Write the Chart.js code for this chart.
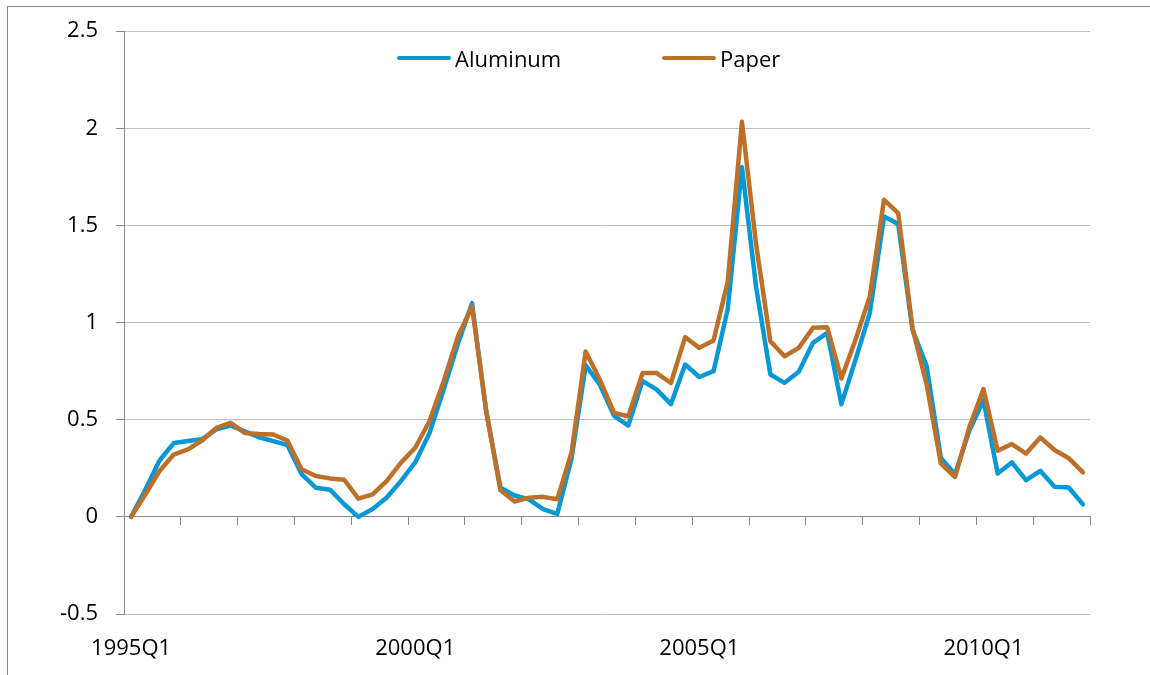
<!DOCTYPE html>
<html>
<head>
<meta charset="utf-8">
<script src="https://cdn.jsdelivr.net/npm/chart.js"></script>
<style>
  body { margin: 0; background: #fff; }
  #wrap { position: relative; width: 1150px; height: 675px; overflow: hidden; }
  #frame { position: absolute; left: 7px; top: 6px; right: -5px; bottom: -5px;
           border-left: 1.5px solid #888; border-top: 1.5px solid #888; }
  canvas { position: absolute; left: 0; top: 0; }
  .key { position: absolute; top: 58px; font: 22px "Open Sans", sans-serif; color: #000;
         transform: translateY(-50%); display: flex; align-items: center; }
  .key i { display: inline-block; width: 54px; height: 4.5px; border-radius: 2px; margin-right: 4px; }
</style>
</head>
<body>
<div id="wrap">
  <div id="frame"></div>
  <canvas id="chart" width="1150" height="675"></canvas>
  <div class="key" style="left:397px"><i style="background:#0898d6"></i>Aluminum</div>
  <div class="key" style="left:662px"><i style="background:#bd7029"></i>Paper</div>
</div>
<script>
  // quarters 1995Q1 .. 2011Q4
  const years = [1995, 1996, 1997, 1998, 1999, 2000, 2001, 2002, 2003,
                 2004, 2005, 2006, 2007, 2008, 2009, 2010, 2011]
  const quarters = ['Q1', 'Q2', 'Q3', 'Q4']
  const labels = []
  years.forEach(y => quarters.forEach(q => labels.push(y + q)))

  const aluminum = [
    0.00, 0.14, 0.29, 0.38, 0.39, 0.40, 0.45, 0.47, 0.44, 0.41, 0.39, 0.37,
    0.22, 0.15, 0.14, 0.065, 0.00, 0.04, 0.10, 0.185, 0.28, 0.43, 0.655, 0.89,
    1.10, 0.54, 0.15, 0.11, 0.09, 0.04, 0.015, 0.30, 0.78, 0.68, 0.52, 0.47,
    0.70, 0.655, 0.58, 0.784, 0.72, 0.75, 1.07, 1.80, 1.18, 0.733, 0.69, 0.747,
    0.896, 0.947, 0.58, 0.81, 1.05, 1.546, 1.507, 0.964, 0.776, 0.303, 0.22, 0.443,
    0.60, 0.223, 0.28, 0.189, 0.237, 0.155, 0.151, 0.065
  ]
  const paper = [
    0.00, 0.115, 0.236, 0.321, 0.347, 0.393, 0.458, 0.484, 0.432, 0.427, 0.424, 0.393,
    0.245, 0.21, 0.198, 0.191, 0.094, 0.116, 0.185, 0.279, 0.356, 0.492, 0.697, 0.928,
    1.082, 0.544, 0.137, 0.079, 0.099, 0.103, 0.091, 0.33, 0.851, 0.706, 0.535, 0.518,
    0.74, 0.74, 0.689, 0.925, 0.87, 0.908, 1.212, 2.034, 1.401, 0.904, 0.827, 0.87,
    0.973, 0.976, 0.712, 0.913, 1.135, 1.632, 1.563, 0.973, 0.682, 0.275, 0.205, 0.46,
    0.658, 0.34, 0.375, 0.326, 0.409, 0.344, 0.302, 0.229
  ]
  // tick marks on the zero axis every 4 quarters (category boundaries)
  const yearMarks = []
  for (let i = 0; i <= labels.length; i += 4) yearMarks.push(i - 0.5)

  const font = { family: 'Open Sans', size: 22 }
  const axisGrey = '#888888'

  new Chart(document.getElementById('chart'), {
    type: 'line',
    data: {
      labels: labels,
      datasets: [
        { label: 'Aluminum', data: aluminum, borderColor: '#0898d6', order: 1 },
        { label: 'Paper', data: paper, borderColor: '#bd7029', order: 0 }
      ]
    },
    options: {
      responsive: false,
      animation: false,
      layout: { padding: { left: 0, top: 28, right: 60, bottom: 0 } },
      elements: {
        point: { radius: 0 },
        line: { borderWidth: 4.5, tension: 0, borderJoinStyle: 'round', borderCapStyle: 'round', fill: false }
      },
      plugins: { legend: { display: false }, tooltip: { enabled: false } },
      scales: {
        x: {
          type: 'category',
          offset: true,
          grid: { display: false },
          border: { display: false },
          ticks: {
            autoSkip: false, maxRotation: 0, padding: 14, color: '#000', font: font,
            callback: (v, i) => (i % 20 === 0 ? labels[i] : '')
          },
          afterFit: s => { s.height = 61 }
        },
        x0: {
          type: 'linear',
          position: { y: 0 },
          min: -0.5,
          max: labels.length - 0.5,
          afterBuildTicks: s => { s.ticks = yearMarks.map(v => ({ value: v })) },
          grid: { drawOnChartArea: false, drawTicks: true, tickLength: 8, tickColor: axisGrey, lineWidth: 1 },
          border: { display: true, color: axisGrey, width: 1 },
          ticks: { display: false },
          afterFit: s => { s.height = 0 }
        },
        y: {
          min: -0.5,
          max: 2.5,
          ticks: { stepSize: 0.5, padding: 18, color: '#000', font: font, callback: v => String(v) },
          grid: { color: '#c0c0c0', lineWidth: 1, tickLength: 8, tickColor: axisGrey },
          border: { color: axisGrey, width: 1 },
          afterFit: s => { s.width = 124 }
        }
      }
    }
  })
</script>
</body>
</html>
